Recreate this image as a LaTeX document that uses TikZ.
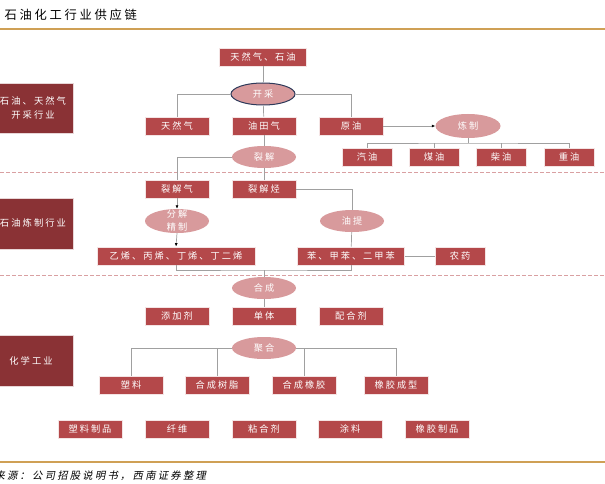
\documentclass[tikz,border=0pt]{standalone}
\usepackage{fontspec}
\setmainfont[LetterSpace=22]{Noto Sans CJK SC}
\newfontfamily\cjkit[FakeSlant=0.2,LetterSpace=22]{Noto Sans CJK SC}
\usetikzlibrary{shapes.geometric,arrows.meta}
\definecolor{boxred}{HTML}{B4484A}
\definecolor{darkred}{HTML}{8A3235}
\definecolor{ovalpink}{HTML}{D89A9C}
\definecolor{navy}{HTML}{2E3A5A}
\definecolor{dashpink}{HTML}{D9A0A2}
\definecolor{rulegold}{HTML}{CFA055}
\definecolor{linegray}{HTML}{A0A0A0}

\begin{document}
\begin{tikzpicture}[x=1pt,y=-1pt,
    box/.style={rectangle, fill=boxred, draw=white!85!boxred, line width=0.8pt,
      text=white, font=\fontsize{9.2}{10}\selectfont, inner sep=0pt,
      minimum width=64pt, minimum height=18pt},
    oval/.style={ellipse, fill=ovalpink, text=white, font=\fontsize{9.2}{10}\selectfont,
      inner sep=0pt, minimum width=64pt, minimum height=22pt},
    sector/.style={fill=darkred, draw=white!80!darkred, line width=0.8pt},
    sectortext/.style={text=white, font=\fontsize{9.3}{14}\selectfont, align=center},
    link/.style={draw=linegray, line width=0.7pt},
    arr/.style={link, -{Latex[length=3.5pt,width=3pt,color=black]}},
    sep/.style={draw=dashpink, dashed, dash pattern=on 4pt off 2pt, line width=0.6pt},
    rule/.style={draw=rulegold, line width=1.2pt}]
  \useasboundingbox (0,0) rectangle (605,484);

  % header and footer
  \node[anchor=west, font=\fontsize{12.3}{14}\selectfont] (title) at (1,15) {石油化工行业供应链};
  \draw[rule] (0,29) -- (605,29);
  \draw[rule] (0,462) -- (605,462);
  \node[anchor=west, font=\cjkit\fontsize{10.3}{11}\selectfont] (source) at (-9,476) {来源：公司招股说明书，西南证券整理};

  % industry sections
  \draw[sep] (0,172) -- (605,172);
  \draw[sep] (0,275) -- (605,275);
  \draw[sector] (-12,83) rectangle (73,133);
  \node[sectortext] (sec1) at (33,108) {石油、天然气\\开采行业};
  \draw[sector] (-12,198) rectangle (73,249);
  \node[sectortext] (sec2) at (33,223) {石油炼制行业};
  \draw[sector] (-12,335) rectangle (73,386);
  \node[sectortext] (sec3) at (31,361) {化学工业};

  % extraction
  \node[box, minimum width=87pt] (src) at (263,57) {天然气、石油};
  \node[oval, draw=navy, line width=1pt] (kc) at (263,94) {开采};
  \node[box] (trq) at (177,126) {天然气};
  \node[box] (ytq) at (264,126) {油田气};
  \node[box] (yy) at (351,126) {原油};
  \node[oval, minimum width=65pt, minimum height=24pt] (lz) at (468,126) {炼制};
  \node[box, minimum width=50pt] (qy) at (367,157) {汽油};
  \node[box, minimum width=50pt] (my) at (434,157) {煤油};
  \node[box, minimum width=50pt] (cy) at (501,157) {柴油};
  \node[box, minimum width=50pt] (zy) at (569,157) {重油};
  \coordinate (lzb) at (468,143);

  \draw[link] (src) -- (kc);
  \draw[link] (kc.west) -| (trq.north);
  \draw[link] (kc.east) -| (yy.north);
  \draw[link] (kc) -- (ytq);
  \draw[arr] (yy.east) -- (lz.west);
  \draw[link] (lz.south) -- (lzb);
  \draw[link] (qy.north) |- (lzb) -| (zy.north);
  \draw[link] (my.north) -- (my.north |- lzb);
  \draw[link] (cy.north) -- (cy.north |- lzb);

  % refining
  \node[oval] (lj) at (264,157) {裂解};
  \node[box] (ljq) at (177,189) {裂解气};
  \node[box] (ljt) at (264,189) {裂解烃};
  \node[oval, minimum height=24pt] (fj) at (177,221) {};
  \node[text=white, font=\fontsize{9.2}{13}\selectfont, align=center] (fjt) at (177,220) {分解\\精制};
  \node[oval] (yt) at (352,221) {油提};
  \node[box, minimum width=158pt] (xi) at (176,256) {乙烯、丙烯、丁烯、丁二烯};
  \node[box, minimum width=107pt] (ben) at (351,256) {苯、甲苯、二甲苯};
  \node[box, minimum width=50pt] (ny) at (460,256) {农药};
  \coordinate (hcj) at (264,270);

  \draw[link] (ytq) -- (lj);
  \draw[link] (lj.west) -| (ljq.north);
  \draw[link] (lj) -- (ljt);
  \draw[link] (ljt.east) -| (yt.north);
  \draw[link] (yt) -- (ben);
  \draw[link] (ben) -- (ny);
  \draw[arr] (ljq.south) -- (fj.north);
  \draw[arr] (fj.south) -- (xi.north);
  \draw[link] (xi.south) |- (hcj) -| (ben.south);

  % chemicals
  \node[oval] (hc) at (264,288) {合成};
  \node[box] (tjj) at (177,316) {添加剂};
  \node[box] (dt) at (264,316) {单体};
  \node[box] (phj) at (351,316) {配合剂};
  \node[oval] (jh) at (264,348) {聚合};
  \node[box] (sl) at (131,385) {塑料};
  \node[box] (hcsz) at (217,385) {合成树脂};
  \node[box] (hcxj) at (304,385) {合成橡胶};
  \node[box] (xjcx) at (396,385) {橡胶成型};
  \node[box] (slzp) at (90,429) {塑料制品};
  \node[box] (xw) at (177,429) {纤维};
  \node[box] (nhj) at (264,429) {粘合剂};
  \node[box] (tl) at (350,429) {涂料};
  \node[box] (xjzp) at (437,429) {橡胶制品};

  \draw[link] (hcj) -- (hc.north);
  \draw[link] (hc) -- (dt);
  \draw[link] (jh.west) -| (sl.north);
  \draw[link] (jh.east) -| (xjcx.north);
  \draw[link] (hcsz.north) -- (hcsz.north |- jh.west);
  \draw[link] (hcxj.north) -- (hcxj.north |- jh.east);
\end{tikzpicture}
\end{document}
